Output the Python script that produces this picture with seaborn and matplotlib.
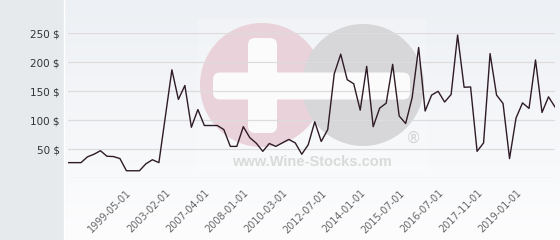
import numpy as np
import pandas as pd
import matplotlib
matplotlib.use("Agg")
import matplotlib.pyplot as plt
import seaborn as sns
from matplotlib.patches import Circle, FancyBboxPatch, Rectangle
from matplotlib.lines import Line2D

# ---- data ----
prices = [27, 27, 27, 37, 41.5, 47.5, 38, 37.5, 34, 13,
          13, 13, 25, 32, 27, 107, 187, 136, 160, 88,
          118.5, 91, 91, 91, 84, 55, 55, 89, 70, 60.5,
          46.5, 60, 55, 61, 67, 61, 41.5, 58, 97.5, 63.5,
          84, 180, 214, 170, 163, 117.5, 193, 89, 121, 129.5,
          196.5, 107.5, 94.5, 139, 225.5, 116, 143.5, 150, 131.5, 144.5,
          247, 157, 157.5, 46.5, 61, 215, 143.5, 129, 34, 104,
          130, 120.5, 204, 113.5, 140.5, 123]
tick_labels = ["1999-05-01", "2003-02-01", "2007-04-01", "2008-01-01",
               "2010-03-01", "2012-07-01", "2014-01-01", "2015-07-01",
               "2016-07-01", "2017-11-01", "2019-01-01"]
y_values = [0, 50, 100, 150, 200, 250]

df = pd.DataFrame({"point": np.arange(len(prices)), "price": prices})

W, H = 560, 240
fig = plt.figure(figsize=(W / 100, H / 100), dpi=100)
fig.patch.set_facecolor("#e6eaed")

# panel background gradient
bg = fig.add_axes([64 / W, 0, 1 - 64 / W, 1], zorder=0)
g = np.linspace(0, 1, 200)[:, None, None]
top = np.array([0xed, 0xf0, 0xf4]) / 255
bot = np.array([0xfd, 0xfd, 0xfe]) / 255
img = top * (1 - g) + bot * g
bg.imshow(img, aspect="auto", extent=[0, 1, 0, 1])
bg.set_axis_off()
fig.add_artist(Line2D([63.5 / W, 63.5 / W], [0, 1], color="white", lw=1))

# watermark overlay in pixel coordinates
wm = fig.add_axes([0, 0, 1, 1], zorder=1)
wm.set_xlim(0, W)
wm.set_ylim(H, 0)
wm.set_axis_off()
wm.patch.set_alpha(0)
wm.add_patch(Rectangle((197, 18), 230, 155, color="white", alpha=0.18, lw=0))
wm.add_patch(Circle((262, 85), 62, color="#e9d2d9", lw=0))
wm.add_patch(Circle((363, 85), 61, color="#d7d7d9", lw=0))
for (x0, y0, w, h) in [(248, 38, 29, 95), (213, 72.5, 197, 27)]:
    wm.add_patch(FancyBboxPatch((x0 + 7, y0 + 7), w - 14, h - 14,
                                boxstyle="round,pad=7", color="#fbfbfc", lw=0))
wm.text(312, 162, "www.Wine-Stocks.com", family="Liberation Sans",
        weight="bold", fontsize=10.5, color="#dadada", ha="center", va="center")
wm.text(413, 138, "®", family="DejaVu Sans", fontsize=11, color="#d2d2d2",
        ha="center", va="center")

# main chart
ax = fig.add_axes([68 / W, (240 - 178.3) / H, (555 - 68) / W, (178.3 - 33.3) / H],
                  zorder=2)
ax.patch.set_alpha(0)
sns.lineplot(data=df, x="point", y="price", ax=ax, color="#2e1b26", lw=1.0)
ax.set_xlim(0, len(prices) - 1)
ax.set_ylim(0, 250)
for s in ax.spines.values():
    s.set_visible(False)
ax.set_yticks(y_values)
ax.set_yticklabels(["" if v == 0 else f"{v} $" for v in y_values],
                   fontsize=7.5, color="#333333", family="DejaVu Sans")
ax.tick_params(axis="y", length=0, pad=6)
ax.grid(axis="y", color="#dcdcdc", lw=0.9)
ax.set_axisbelow(True)
ax.set_xticks(list(range(9, len(prices), 6))[:len(tick_labels)])
ax.set_xticklabels(tick_labels, rotation=45, ha="right", va="top",
                   rotation_mode="anchor", fontsize=7, color="#666666",
                   family="DejaVu Sans")
ax.tick_params(axis="x", length=0, pad=7)
ax.grid(axis="x", visible=False)
ax.set_xlabel("")
ax.set_ylabel("")

fig.savefig("out.png", dpi=100)
